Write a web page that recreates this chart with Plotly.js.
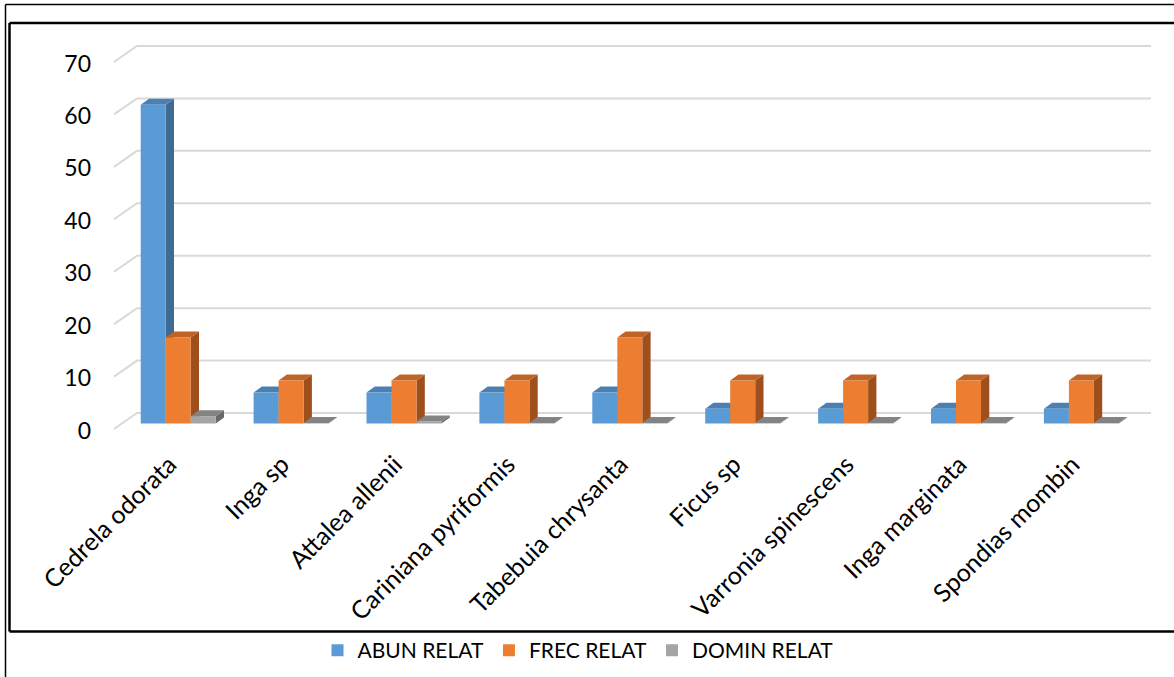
<!DOCTYPE html>
<html>
<head>
<meta charset="utf-8">
<script src="https://cdn.plot.ly/plotly-3.0.1.min.js"></script>
<style>
  html, body { margin: 0; padding: 0; background: #ffffff; }
  #chart { width: 1174px; height: 677px; }
</style>
</head>
<body>
<div id="chart"></div>
<script>
// Species (category tick labels)
const species = [
  'Cedrela odorata', 'Inga sp', 'Attalea allenii', 'Cariniana pyriformis',
  'Tabebuia chrysanta', 'Ficus sp', 'Varronia spinescens', 'Inga marginata',
  'Spondias mombin'
];

// Series values (%)
const abunRelat = [60.8, 5.9, 5.9, 5.9, 5.9, 2.8, 2.8, 2.8, 2.8];
const frecRelat = [16.4, 8.2, 8.2, 8.2, 16.4, 8.2, 8.2, 8.2, 8.2];
const dominRelat = [1.4, 0.1, 0.4, 0.1, 0.1, 0.1, 0.1, 0.1, 0.1];

const seriesNames = ['ABUN RELAT', 'FREC RELAT', 'DOMIN RELAT'];
const yTicks = [0, 10, 20, 30, 40, 50, 60, 70];

// ---- geometry of the drawing (pixels) ----
const FIG_W = 1174, FIG_H = 677;
const PLOT_L = 100, PLOT_R = 1165, PLOT_T = 35, PLOT_B = 440;
const PLOT_W = PLOT_R - PLOT_L, PLOT_H = PLOT_B - PLOT_T;
const CAT_PX = 112.9;      // spacing between categories
const CAT0_PX = 178.2;     // pixel x of the first category centre
const UNIT_PX = 5.243;     // pixels per value unit
const BASE_PX = 423.5;     // pixel y of value 0 at the bars' front face
const BAR_PX = 25;         // width of one column
const DEPTH_X = 8.3, DEPTH_Y = 6;          // column depth (oblique)
const WALL_FRONT_X = 114, WALL_BACK_X = 137, WALL_END_X = 1151;
const WALL_FRONT_DY = 5.5, WALL_BACK_DY = 10.5;
const YLABEL_DY = 7;       // value labels sit on the front plane
const XLABEL_DX = -9;      // category labels pulled slightly left

const toX = px => (px - CAT0_PX) / CAT_PX;
const toY = py => (BASE_PX - py) / UNIT_PX;
const pxToPaperX = px => (px - PLOT_L) / PLOT_W;
const pxToPaperY = py => (PLOT_B - py) / PLOT_H;

const xRange = [toX(PLOT_L), toX(PLOT_R)];
const yRange = [toY(PLOT_B), toY(PLOT_T)];

const barW = BAR_PX / CAT_PX;
const dX = DEPTH_X / CAT_PX;
const dY = DEPTH_Y / UNIT_PX;

const frontColors = ['#5B9BD5', '#ED7D31', '#A5A5A5'];
const sideColors  = ['#3E6A94', '#9E4F1C', '#686868'];
const topColors   = ['#4A80B3', '#BF6327', '#838383'];

const allSeries = [abunRelat, frecRelat, dominRelat];
const xIdx = species.map((_, i) => i);
const offsets = [-1.5 * barW, -0.5 * barW, 0.5 * barW];

// Front faces of the columns
const traces = allSeries.map((vals, s) => ({
  type: 'bar',
  name: seriesNames[s],
  x: xIdx,
  y: vals,
  offset: offsets[s],
  width: barW,
  marker: { color: frontColors[s], line: { width: 0 } },
  hoverinfo: 'skip'
}));

const shapes = [];

// Back-wall gridlines with their slanted run to the front axis
yTicks.forEach(t => {
  const xF = toX(WALL_FRONT_X), xB = toX(WALL_BACK_X), xE = toX(WALL_END_X);
  const yF = t - WALL_FRONT_DY / UNIT_PX;
  const yB = t + WALL_BACK_DY / UNIT_PX;
  shapes.push({
    type: 'path', xref: 'x', yref: 'y', layer: 'below',
    path: `M${xF},${yF} L${xB},${yB} L${xE},${yB}`,
    line: { color: '#D9D9D9', width: 2 }
  });
});

// Side and top faces of each column
allSeries.forEach((vals, s) => {
  vals.forEach((v, i) => {
    const x0 = i + offsets[s];
    const x1 = x0 + barW;
    shapes.push({
      type: 'path', xref: 'x', yref: 'y', layer: 'below',
      path: `M${x1},0 L${x1 + dX},${dY} L${x1 + dX},${v + dY} L${x1},${v} Z`,
      fillcolor: sideColors[s], line: { width: 0 }
    });
    shapes.push({
      type: 'path', xref: 'x', yref: 'y', layer: 'below',
      path: `M${x0},${v} L${x1},${v} L${x1 + dX},${v + dY} L${x0 + dX},${v + dY} Z`,
      fillcolor: topColors[s], line: { width: 0 }
    });
  });
});

// Frames around the chart
const frameLine = (x0, y0, x1, y1, w) => ({
  type: 'line', xref: 'paper', yref: 'paper', layer: 'above',
  x0: pxToPaperX(x0), y0: pxToPaperY(y0), x1: pxToPaperX(x1), y1: pxToPaperY(y1),
  line: { color: '#000000', width: w }
});
shapes.push(frameLine(5.5, 4.5, FIG_W + 2, 4.5, 1.5));
shapes.push(frameLine(5.5, 4.5, 5.5, FIG_H + 2, 1.5));
shapes.push(frameLine(9.5, 23, FIG_W + 2, 23, 2.5));
shapes.push(frameLine(9.5, 23, 9.5, 631.5, 2.5));
shapes.push(frameLine(9.5, 631.5, FIG_W + 2, 631.5, 2.5));

const layout = {
  width: FIG_W,
  height: FIG_H,
  margin: { l: PLOT_L, r: FIG_W - PLOT_R, t: PLOT_T, b: FIG_H - PLOT_B, pad: 0, autoexpand: false },
  paper_bgcolor: '#FFFFFF',
  plot_bgcolor: 'rgba(0,0,0,0)',
  font: { family: 'Lato, "Open Sans", sans-serif', size: 22, color: '#000000' },
  barmode: 'overlay',
  showlegend: true,
  legend: {
    orientation: 'h',
    x: pxToPaperX(578), xanchor: 'center',
    y: pxToPaperY(630), yanchor: 'top',
    font: { size: 21, color: '#000000' },
    bgcolor: 'rgba(0,0,0,0)',
    itemclick: false, itemdoubleclick: false
  },
  xaxis: {
    type: 'linear',
    range: xRange,
    tickvals: xIdx.map(i => i + XLABEL_DX / CAT_PX),
    ticktext: species,
    tickangle: -45,
    ticklabelstandoff: 4,
    showgrid: false, zeroline: false, showline: false, ticks: '',
    tickfont: { size: 25, color: '#000000' },
    fixedrange: true
  },
  yaxis: {
    range: yRange,
    tickvals: yTicks.map(t => t - YLABEL_DY / UNIT_PX),
    ticktext: yTicks.map(String),
    ticklabelstandoff: 8,
    showgrid: false, zeroline: false, showline: false, ticks: '',
    tickfont: { size: 23, color: '#000000' },
    fixedrange: true
  },
  shapes: shapes
};

Plotly.newPlot('chart', traces, layout, { displayModeBar: false, staticPlot: true });
</script>
</body>
</html>
